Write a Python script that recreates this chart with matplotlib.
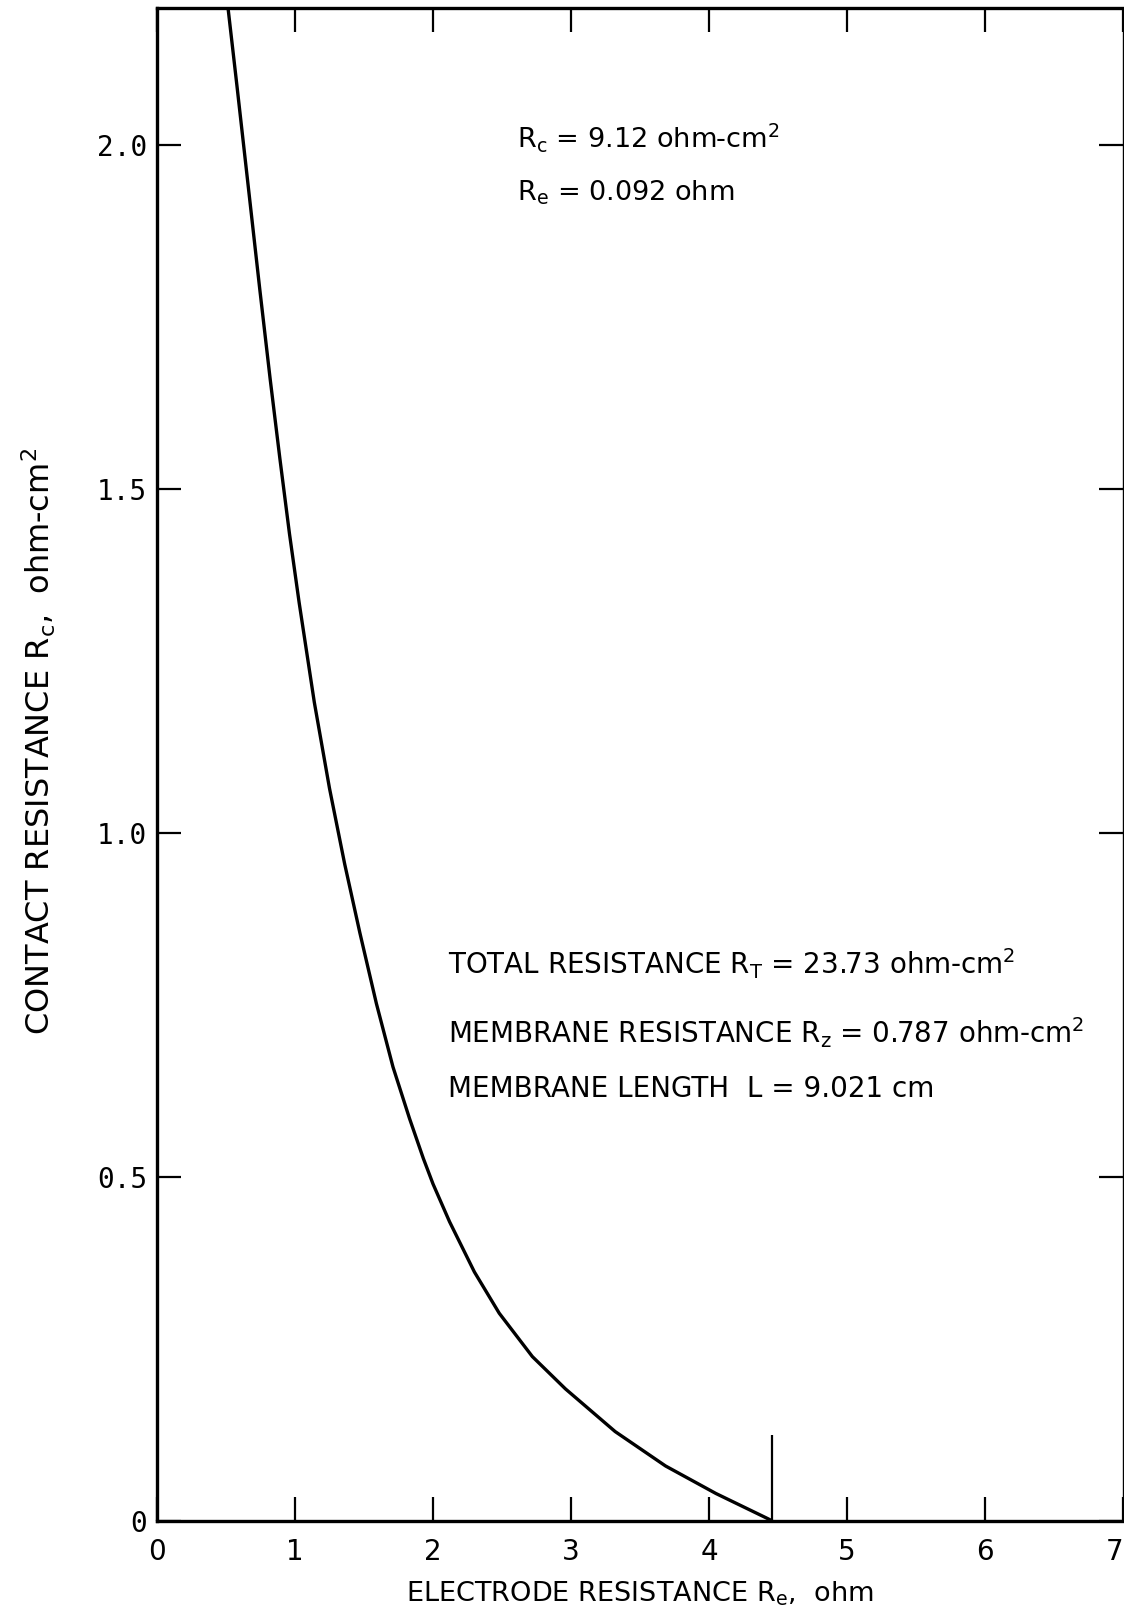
import matplotlib
matplotlib.use("Agg")
import matplotlib.pyplot as plt

# curve
electrode_r = [0.516, 0.58, 0.65, 0.745, 0.82, 0.89, 0.96, 1.03, 1.14, 1.25,
               1.36, 1.47, 1.59, 1.71, 1.83, 1.93, 2.0, 2.12, 2.30, 2.48,
               2.72, 2.96, 3.32, 3.685, 4.05, 4.41, 4.46]
contact_r = [2.197, 2.085, 1.960, 1.790, 1.660, 1.545, 1.435, 1.335, 1.190, 1.065,
             0.955, 0.855, 0.752, 0.660, 0.585, 0.527, 0.490, 0.435, 0.362, 0.302,
             0.239, 0.192, 0.130, 0.080, 0.040, 0.005, 0.0]

# marker line at the curve end
marker_x = 4.46
marker_top = 0.125

x_ticks = [0, 1, 2, 3, 4, 5, 6, 7]
x_ticklabels = ["0", "1", "2", "3", "4", "5", "6", "7"]
y_ticks = [0, 0.5, 1.0, 1.5, 2.0]
y_ticklabels = ["0", "0.5", "1.0", "1.5", "2.0"]

plt.rcParams["font.family"] = ["DejaVu Sans"]
plt.rcParams["mathtext.default"] = "regular"

fig = plt.figure(figsize=(11.24, 16.21), dpi=100)
ax = fig.add_axes([157 / 1124, 100 / 1621, 966 / 1124, 1513.5 / 1621])

ax.plot(electrode_r, contact_r, color="black", linewidth=2.4,
        solid_joinstyle="round", solid_capstyle="butt")
ax.vlines(marker_x, 0, marker_top, color="black", linewidth=1.6)

ax.set_xlim(0, 7)
ax.set_ylim(0, 2.2)
ax.set_xticks(x_ticks)
ax.set_xticklabels(x_ticklabels)
ax.set_yticks(y_ticks)
ax.set_yticklabels(y_ticklabels, family="DejaVu Sans Mono")
ax.tick_params(direction="in", length=17, width=1.6, top=True, right=True)
ax.tick_params(axis="x", labelsize=20, pad=12)
ax.tick_params(axis="y", labelsize=20, pad=7)
ax.get_xticklabels()[-1].set_ha("right")

for side in ["left", "bottom", "top"]:
    ax.spines[side].set_linewidth(2.4)
ax.spines["right"].set_linewidth(1.0)

ax.set_xlabel("ELECTRODE RESISTANCE $R_e$,  ohm", fontsize=19.5, labelpad=10)
ax.set_ylabel("CONTACT RESISTANCE $R_c$,  ohm-cm$^2$", fontsize=23)
ax.yaxis.set_label_coords(-0.103, 0.515)

txt = dict(fontsize=20, color="black", ha="left", va="baseline")
ax.text(2.61, 1.996, "$R_c$ = 9.12 ohm-cm$^2$", fontsize=19.5, color="black",
        ha="left", va="baseline")
ax.text(2.61, 1.920, "$R_e$ = 0.092 ohm", fontsize=19.5, color="black",
        ha="left", va="baseline")
ax.text(2.108, 0.795, "TOTAL RESISTANCE $R_T$ = 23.73 ohm-cm$^2$", **txt)
ax.text(2.108, 0.695, "MEMBRANE RESISTANCE $R_z$ = 0.787 ohm-cm$^2$", **txt)
ax.text(2.108, 0.617, "MEMBRANE LENGTH  L = 9.021 cm", **txt)

fig.savefig("out.png", dpi=100)
